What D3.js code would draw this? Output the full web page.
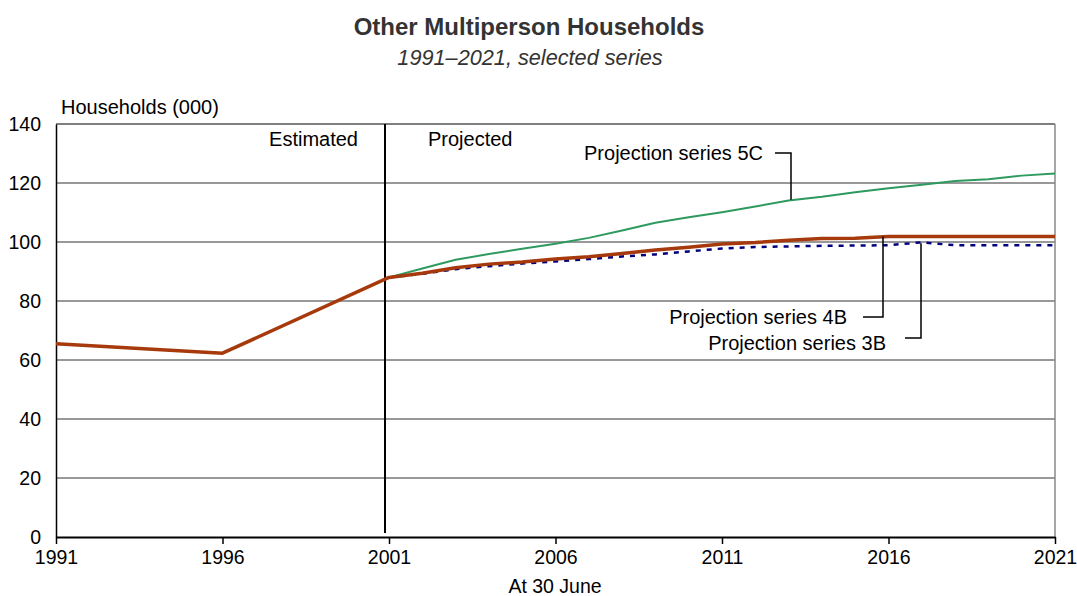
<!DOCTYPE html>
<html><head><meta charset="utf-8">
<script src="https://cdn.jsdelivr.net/npm/d3@7"></script>
<style>body{margin:0;background:#fff}svg{display:block;font-family:"Liberation Sans",Arial,sans-serif}</style>
</head><body><svg id="c" width="1077" height="596"></svg>
<script>
const estYears = [1991, 1996, 2001];
const estValues = [65.5, 62.3, 88.0];
const projYears = [2001,2002,2003,2004,2005,2006,2007,2008,2009,2010,2011,2012,2013,2014,2015,2016,2017,2018,2019,2020,2021];
const series5C = [88.0,91.0,94.0,95.9,97.7,99.4,101.4,103.9,106.5,108.4,110.1,112.0,114.1,115.3,116.9,118.2,119.4,120.7,121.3,122.5,123.2];
const series4B = [88.0,89.4,91.3,92.5,93.2,94.2,95.0,96.1,97.3,98.2,99.3,99.8,100.6,101.2,101.3,101.9,101.9,101.9,101.9,101.9,101.9];
const series3B = [88.0,89.2,90.8,91.8,92.7,93.4,94.2,95.1,95.8,96.8,97.8,98.3,98.5,98.7,98.8,98.9,99.9,98.9,98.9,98.9,98.9];
const yTicks = [0,20,40,60,80,100,120,140];
const xTicks = [1991,1996,2001,2006,2011,2016,2021];

const svg = d3.select("#c");
const L=56, R=1055, T=124, B=537;
const x = d3.scaleLinear().domain([1991,2021]).range([L,R]);
const y = d3.scaleLinear().domain([0,140]).range([B,T]);

// title
svg.append("text").attr("x",529).attr("y",35).attr("text-anchor","middle")
  .attr("font-size",24).attr("font-weight","bold").attr("fill","#333").text("Other Multiperson Households");
svg.append("text").attr("x",530).attr("y",65).attr("text-anchor","middle")
  .attr("font-size",21.7).attr("font-style","italic").attr("fill","#333").text("1991–2021, selected series");

// gridlines
svg.append("g").selectAll("line").data(yTicks.filter(d=>d>0&&d<140)).join("line")
  .attr("x1",L).attr("x2",R).attr("y1",d=>y(d)).attr("y2",d=>y(d))
  .attr("stroke","#333").attr("stroke-width",1);
// frame top & right
svg.append("line").attr("x1",L).attr("x2",R).attr("y1",T).attr("y2",T).attr("stroke","#000").attr("stroke-width",1.2);
svg.append("line").attr("x1",R).attr("x2",R).attr("y1",T).attr("y2",B).attr("stroke","#888").attr("stroke-width",1.5);

// y axis
const ya = svg.append("g").attr("transform",`translate(${L},0)`)
  .call(d3.axisLeft(y).tickValues(yTicks).tickSize(0).tickPadding(15));
ya.select(".domain").attr("stroke","#000").attr("stroke-width",1.5);
ya.selectAll("text").attr("font-size",19.5).attr("fill","#000").attr("font-family","Liberation Sans, Arial, sans-serif");

// x axis
const xa = svg.append("g").attr("transform",`translate(0,${B})`)
  .call(d3.axisBottom(x).tickValues(xTicks).tickFormat(d3.format("d")).tickSize(7).tickSizeOuter(0).tickPadding(6));
xa.select(".domain").attr("stroke","#000").attr("stroke-width",2);
xa.selectAll(".tick line").attr("stroke","#000").attr("stroke-width",1.5);
xa.selectAll("text").attr("font-size",19.5).attr("fill","#000").attr("font-family","Liberation Sans, Arial, sans-serif");

svg.append("text").attr("x",61).attr("y",114).attr("font-size",20).text("Households (000)");
svg.append("text").attr("x",555).attr("y",593).attr("text-anchor","middle").attr("font-size",19.5).text("At 30 June");

// divider
svg.append("line").attr("x1",x(2001)-4).attr("x2",x(2001)-4).attr("y1",T).attr("y2",B-4).attr("stroke","#000").attr("stroke-width",2);
svg.append("text").attr("x",358).attr("y",146).attr("text-anchor","end").attr("font-size",20).text("Estimated");
svg.append("text").attr("x",428).attr("y",146).attr("font-size",20).text("Projected");

const line = d3.line().x(d=>x(d[0])).y(d=>y(d[1]));
const zip = (a,b)=>a.map((v,i)=>[v,b[i]]);

svg.append("path").datum(zip(projYears,series5C)).attr("d",line).attr("fill","none")
  .attr("stroke","#2e9a5e").attr("stroke-width",2);
svg.append("path").datum(zip(projYears,series3B)).attr("d",line).attr("fill","none")
  .attr("stroke","#000080").attr("stroke-width",2.5).attr("stroke-dasharray","5,6");
svg.append("path").datum(zip(estYears,estValues).concat(zip(projYears,series4B).slice(1))).attr("d",line).attr("fill","none")
  .attr("stroke","#a63a0c").attr("stroke-width",3.5).attr("stroke-linejoin","round");

// annotations
const ann = svg.append("g").attr("font-size",20);
function leader(pts){ svg.append("path").attr("d",d3.line()(pts)).attr("fill","none").attr("stroke","#000").attr("stroke-width",1.5); }
ann.append("text").attr("x",763).attr("y",160).attr("text-anchor","end").text("Projection series 5C");
leader([[775,153],[791,153],[791,y(series5C[12]+0.2)]]);
ann.append("text").attr("x",847).attr("y",324).attr("text-anchor","end").text("Projection series 4B");
leader([[863,317],[883,317],[883,y(series4B[15])]]);
ann.append("text").attr("x",886).attr("y",350).attr("text-anchor","end").text("Projection series 3B");
leader([[905,338],[921,338],[921,y(series3B[16]-0.3)]]);
</script></body></html>
